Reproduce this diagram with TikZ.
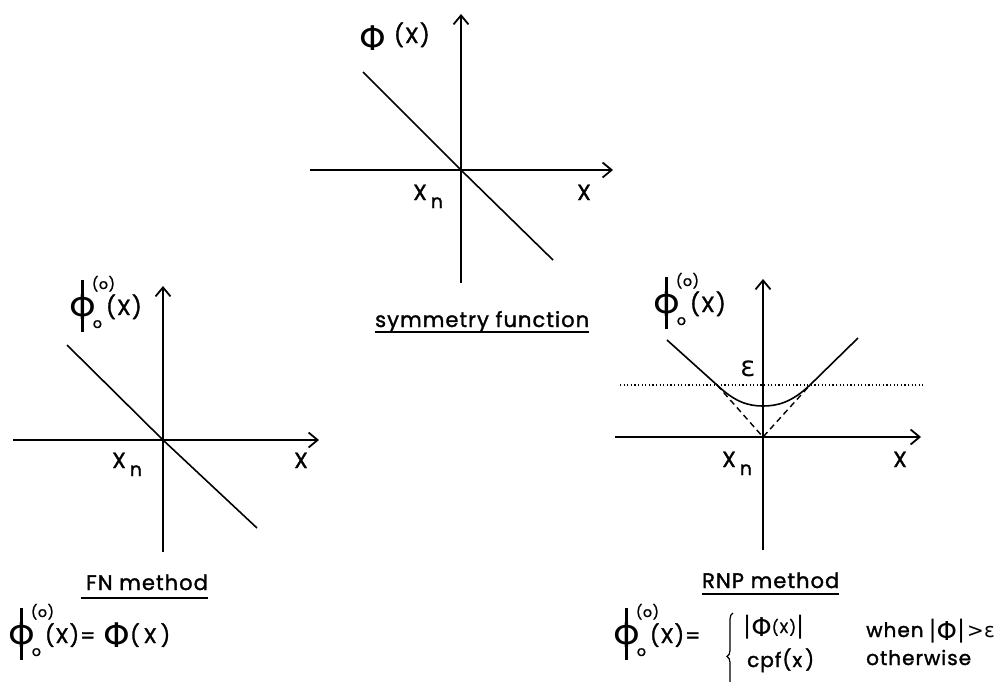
\documentclass[tikz,border=0pt]{standalone}
\usepackage{fontspec}
\setmainfont{Poppins}[LetterSpace=5,FakeBold=1.5]
\newfontfamily\symfont{DejaVu Sans}
\usetikzlibrary{arrows.meta,decorations.pathreplacing}

\newcommand{\phibody}[1][34]{{\symfont\fontsize{#1}{#1}\selectfont\raisebox{-0.12em}{Φ}}}
\newcommand{\idxfont}{\fontsize{14}{14}\selectfont}
\newcommand{\phizero}{\ooalign{\hfil\rule[-17pt]{2.6pt}{52pt}\hfil\cr\phibody\cr}\hspace{-4pt}\makebox[14pt][l]{\rlap{\raisebox{26pt}{\idxfont(o)}}\raisebox{-13pt}{\idxfont\hspace{1pt}o}}}
\newcommand{\xn}{X\hspace{4pt}\raisebox{-8pt}{\fontsize{19}{19}\selectfont n}}
\newcommand{\absbar}{{\symfont\fontsize{24}{24}\selectfont|}}

\begin{document}
\begin{tikzpicture}[x=1pt,y=-1pt]
\tikzstyle{axisline}=[line width=1.8pt,-{Straight Barb[length=9pt,width=15pt]}]
\tikzstyle{plotline}=[line width=1.6pt]
\tikzstyle{dashline}=[line width=1.4pt,dash pattern=on 6pt off 4pt]
\tikzstyle{dotline}=[line width=1.1pt,dash pattern=on 1.2pt off 2.4pt]
\tikzstyle{lbl}=[inner sep=0pt,font=\fontsize{22}{24}\selectfont]
\tikzstyle{captxt}=[inner sep=0pt,font=\fontsize{21}{24}\selectfont]
\tikzstyle{rowtxt}=[inner sep=0pt,font=\fontsize{20}{22}\selectfont]

\useasboundingbox (0,0) rectangle (998,681);

% symmetry function
\coordinate (sO) at (461,170);
\coordinate (sL) at (310,170);
\coordinate (sR) at (613,170);
\coordinate (sB) at (461,283);
\coordinate (sT) at (461,14);
\coordinate (sA) at (363,72);
\coordinate (sZ) at (553,260);
\draw[axisline] (sL) -- (sR);
\draw[axisline] (sB) -- (sT);
\draw[plotline] (sA) -- (sO) -- (sZ);
\node[lbl,anchor=base west] (sphi) at (359,43) {\raisebox{-3pt}{\phibody}\hspace{8pt}(X)};
\node[lbl,anchor=base west] (sxn) at (413,200) {\xn};
\node[lbl,anchor=base] (sx) at (584,200) {X};
\node[captxt,anchor=base west] (scap) at (375,327) {symmetry function};
\draw[line width=1.5pt] ([yshift=-5pt]scap.base west) -- ([yshift=-5pt]scap.base east);

% FN method
\coordinate (fO) at (163,440);
\coordinate (fL) at (13,440);
\coordinate (fR) at (319,440);
\coordinate (fB) at (163,552);
\coordinate (fT) at (163,286);
\coordinate (fA) at (67,345);
\coordinate (fZ) at (257,528);
\draw[axisline] (fL) -- (fR);
\draw[axisline] (fB) -- (fT);
\draw[plotline] (fA) -- (fO) -- (fZ);
\node[lbl,anchor=base west] (fphi) at (69,315) {\phizero(X)};
\node[lbl,anchor=base west] (fxn) at (112,468) {\xn};
\node[lbl,anchor=base] (fx) at (301,468) {X};
\node[captxt,anchor=base west] (fcap) at (86,590) {FN method};
\draw[line width=1.5pt] ([xshift=-5pt,yshift=-8pt]fcap.base west) -- ([yshift=-8pt]fcap.base east);
\node[captxt,anchor=base west] (feq) at (8,643) {\phizero(X)=\hspace{8pt}\phibody(\hspace{4pt}X\hspace{4pt})};

% RNP method
\coordinate (rO) at (763,437);
\coordinate (rL) at (615,437);
\coordinate (rR) at (921,437);
\coordinate (rB) at (763,550);
\coordinate (rT) at (763,279);
\coordinate (rE) at (620,385);
\coordinate (rF) at (923,385);
\coordinate (rA) at (667,340);
\coordinate (rP) at (717,385);
\coordinate (rM) at (763,406);
\coordinate (rQ) at (810,385);
\coordinate (rZ) at (858,338);
\draw[axisline] (rL) -- (rR);
\draw[axisline] (rB) -- (rT);
\draw[dotline] (rE) -- (rF);
\draw[dashline] (rP) -- (rO) -- (rQ);
\draw[plotline] (rA) -- (rP) .. controls (735,402) and (748,406) .. (rM) .. controls (778,406) and (792,402) .. (rQ) -- (rZ);
\node[lbl,anchor=base west] (rphi) at (653,312) {\phizero(X)};
\node[inner sep=0pt,font=\symfont\fontsize{28}{28}\selectfont] (reps) at (748,369) {ε};
\node[lbl,anchor=base west] (rxn) at (722,467) {\xn};
\node[lbl,anchor=base] (rx) at (900,467) {X};
\node[captxt,anchor=base west] (rcap) at (702,588) {RNP method};
\draw[line width=1.5pt] ([yshift=-6pt]rcap.base west) -- ([yshift=-6pt]rcap.base east);

\node[captxt,anchor=base west] (rlhs) at (613,643) {\phizero(X)=};
\coordinate (rbT) at (733,613);
\coordinate (rbB) at (733,700);
\draw[line width=1.2pt,decorate,decoration={brace,amplitude=6pt}] (rbB) -- (rbT);
\node[rowtxt,anchor=base west] (rabs) at (743,633) {\absbar\phibody[26]{\fontsize{15}{15}\selectfont(X)}\absbar};
\node[rowtxt,anchor=base west] (rwhen) at (866,637) {when\hspace{5pt}\absbar\phibody[26]\absbar\hspace{2pt}{\symfont >ε}};
\node[rowtxt,anchor=base west] (rcpf) at (747,667) {cpf(x\hspace{3pt})};
\node[rowtxt,anchor=base west] (rother) at (866,665) {otherwise};
\end{tikzpicture}
\end{document}
